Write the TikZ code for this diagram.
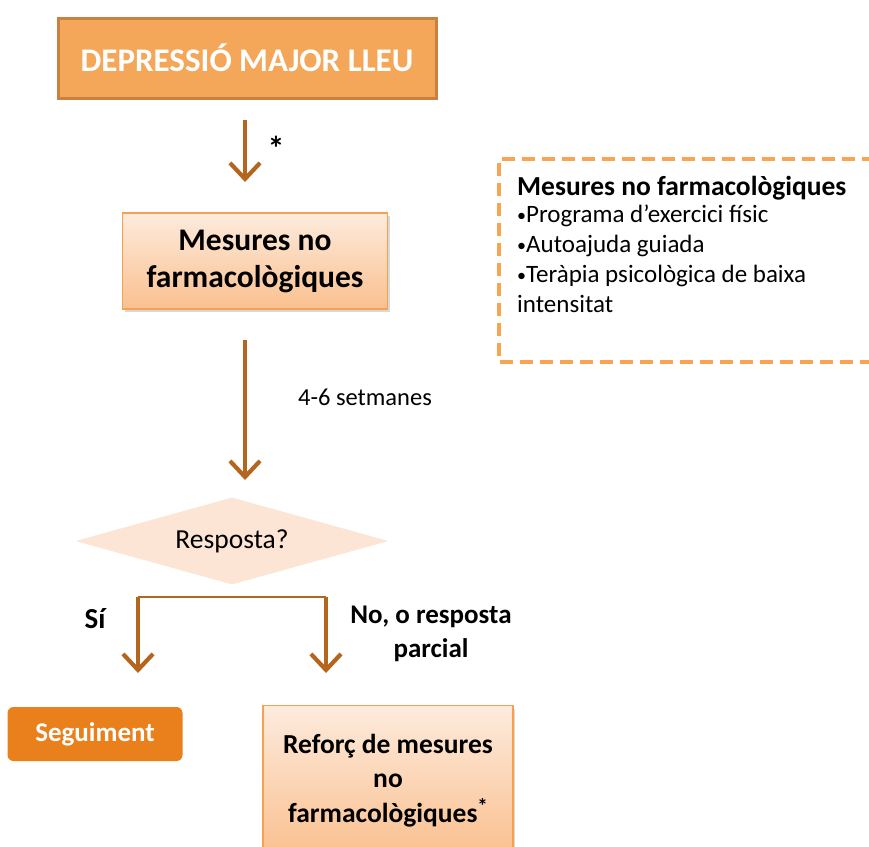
\documentclass[tikz,border=0pt]{standalone}
\usepackage{fontspec}
\setmainfont{Carlito}
\usetikzlibrary{arrows.meta,shapes.geometric,shadows,calc}
\definecolor{arrowc}{HTML}{B5661E}
\definecolor{topfill}{HTML}{F5A759}
\definecolor{topdraw}{HTML}{C98040}
\definecolor{peachtop}{HTML}{FDEBDD}
\definecolor{peachbot}{HTML}{FAC08F}
\definecolor{orangeline}{HTML}{F7A04F}
\definecolor{diafill}{HTML}{FCE5D5}
\definecolor{segfill}{HTML}{E9801B}
\definecolor{dashc}{HTML}{F8A452}
\newcommand{\smbul}{{\fontsize{18}{20}\selectfont\raisebox{1.5pt}{•}}}
\tikzset{
  conn/.style={draw=arrowc, line width=4.2pt, -{Straight Barb[length=16pt,width=30pt,line width=4.2pt]}},
  branch/.style={draw=arrowc, line width=2.6pt},
  gradbox/.style={draw=orangeline, line width=1.2pt, top color=peachtop, bottom color=peachbot, align=center, font=\bfseries, drop shadow={opacity=0.3, shadow xshift=2pt, shadow yshift=-3pt}},
  lbl/.style={inner sep=0pt, align=center}
}
\begin{document}
\begin{tikzpicture}[x=1pt,y=-1pt]
\useasboundingbox (0,0) rectangle (869,846);
% top box
\node[draw=topdraw, line width=3pt, fill=topfill, minimum width=378pt, minimum height=80pt, text=white, font=\fontsize{33}{38}\selectfont\bfseries] (top) at (247,58) {DEPRESSIÓ MAJOR LLEU};
% box 2
\node[gradbox, minimum width=265pt, minimum height=96pt, font=\fontsize{31.5}{37}\selectfont\bfseries] (m1) at (255,261) {Mesures no\\farmacològiques};
\coordinate (a1s) at (245,120);
\coordinate (a1e) at (245,182);
\draw[conn] (a1s) -- (a1e);
\node[lbl, font=\fontsize{34}{36}\selectfont\bfseries] (star1) at (276,148) {*};
% arrow 2
\coordinate (a2s) at (245,340);
\coordinate (a2e) at (245,480);
\draw[conn] (a2s) -- (a2e);
\node[lbl, font=\fontsize{24.5}{28}\selectfont] (weeks) at (365,397) {4-6 setmanes};
% diamond
\node[diamond, fill=diafill, minimum width=313pt, minimum height=87pt, inner sep=0pt, aspect=3.6, font=\fontsize{27.5}{30}\selectfont] (resp) at (232,541) {Resposta?};
% branches
\coordinate (bl) at (138,597);
\coordinate (br) at (326,597);
\coordinate (ble) at (138,673);
\coordinate (bre) at (326,673);
\draw[branch] (bl) -- (br);
\draw[conn] (bl) -- (ble);
\draw[conn] (br) -- (bre);
\node[lbl, font=\fontsize{29}{30}\selectfont\bfseries] (si) at (95,619) {Sí};
\node[lbl, font=\fontsize{27}{34}\selectfont\bfseries] (no) at (431,634) {No, o resposta\\parcial};
% seguiment
\node[fill=segfill, rounded corners=6pt, minimum width=175pt, minimum height=54pt, text=white, font=\fontsize{27}{30}\selectfont\bfseries] (seg) at (95,734) {Seguiment};
% reforc
\node[gradbox, minimum width=250pt, minimum height=150pt, anchor=north, font=\fontsize{27.5}{34.5}\selectfont\bfseries] (ref) at (388,705) {Reforç de mesures\\no\\farmacològiques\raisebox{9pt}{\fontsize{21}{22}\selectfont *}};
% dashed box
\draw[draw=dashc, line width=3.5pt, dash pattern=on 13pt off 7pt] (875,159) -- (499,159) -- (499,362) -- (875,362);
\node[anchor=north west, align=left, inner sep=0pt, font=\fontsize{25}{30}\selectfont] (info) at (517,176) {{\fontsize{27.5}{30}\selectfont\bfseries Mesures no farmacològiques}\\[-3pt]\smbul Programa d’exercici físic\\\smbul Autoajuda guiada\\\smbul Teràpia psicològica de baixa\\intensitat};
\end{tikzpicture}
\end{document}
